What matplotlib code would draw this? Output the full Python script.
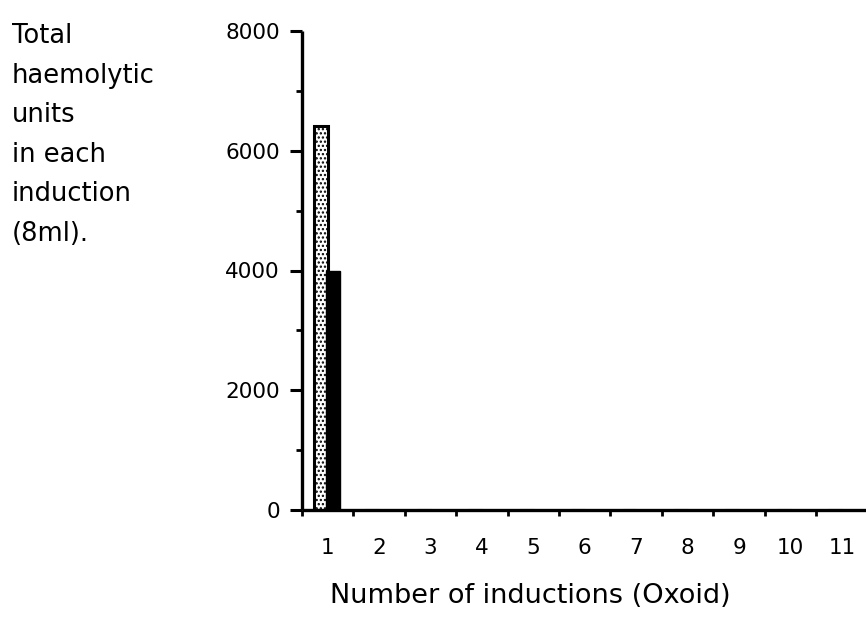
import matplotlib
matplotlib.use("Agg")
import matplotlib.pyplot as plt
from matplotlib.ticker import FixedLocator, MultipleLocator

# Data: total haemolytic units per 8 ml induction
inductions = [1, 2, 3, 4, 5, 6, 7, 8, 9, 10, 11]
units_stippled = [6420, 0, 0, 0, 0, 0, 0, 0, 0, 0, 0]
units_solid = [4000, 0, 0, 0, 0, 0, 0, 0, 0, 0, 0]
y_ticks = [0, 2000, 4000, 6000, 8000]

plt.rcParams["font.family"] = ["DejaVu Sans"]
plt.rcParams["hatch.linewidth"] = 1.1

W, H = 866, 622
fig = plt.figure(figsize=(W / 100, H / 100), dpi=100)
ax = fig.add_axes([302 / W, (H - 510) / H, (W - 302) / W, (510 - 31) / H])

bar_w = 0.27
xs = range(len(inductions))
ax.bar([inductions[i] - 0.13 for i in xs], units_stippled, width=bar_w,
       facecolor="white", edgecolor="black", hatch="....", linewidth=2.2,
       zorder=2)
ax.bar([inductions[i] + 0.11 for i in xs], units_solid, width=bar_w,
       facecolor="black", edgecolor="black", linewidth=1.0, zorder=3)

ax.set_xlim(0.5, 11.47)
ax.set_ylim(0, 8000)

for side in ("top", "right"):
    ax.spines[side].set_visible(False)
for side in ("left", "bottom"):
    ax.spines[side].set_linewidth(2.4)
    ax.spines[side].set_capstyle("butt")

# y axis: major ticks with labels, minor ticks between
ax.yaxis.set_major_locator(FixedLocator(y_ticks))
ax.yaxis.set_minor_locator(MultipleLocator(1000))
ax.tick_params(axis="y", which="major", direction="out", length=9, width=2.2,
               pad=7, labelsize=15.5)
ax.tick_params(axis="y", which="minor", direction="out", length=4.5, width=2)

# x axis: labels at bin centres, small ticks at bin boundaries
ax.xaxis.set_major_locator(FixedLocator(inductions))
ax.set_xticklabels([str(v) for v in inductions])
ax.xaxis.set_minor_locator(FixedLocator([v - 0.5 for v in inductions]))
ax.tick_params(axis="x", which="major", length=0, pad=20, labelsize=15.5)
ax.tick_params(axis="x", which="minor", direction="out", length=4, width=2)

fig.text(12 / W, 1 - 23 / H,
         "Total\nhaemolytic\nunits\nin each\ninduction\n(8ml).",
         ha="left", va="top", fontsize=18.5, linespacing=1.68)

fig.text(530 / W, (H - 603) / H, "Number of inductions (Oxoid)",
         ha="center", va="baseline", fontsize=19.5)

fig.savefig("out.png", dpi=100)
